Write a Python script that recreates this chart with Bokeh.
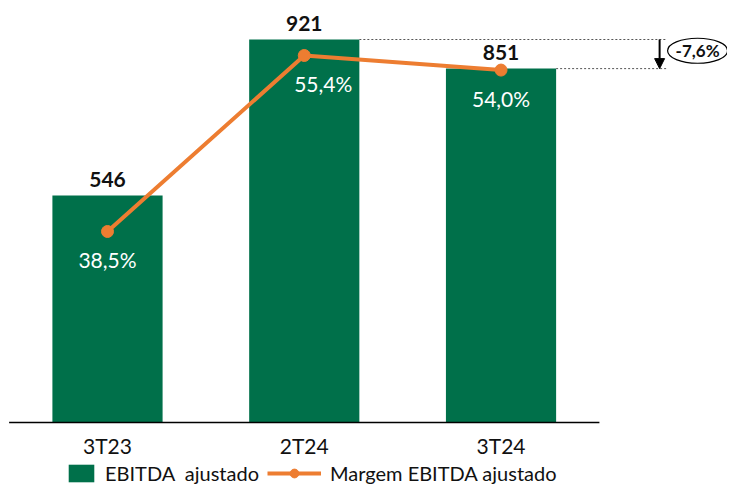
from bokeh.plotting import figure
from bokeh.models import Range1d, Legend, LegendItem, Arrow, NormalHead
from bokeh.embed import file_html
from bokeh.resources import INLINE
from bokeh.core.properties import value

# ---- data ----
categories = ["3T23", "2T24", "3T24"]
ebitda = [546, 921, 851]
margem = [38.5, 55.4, 54.0]
ebitda_labels = ["546", "921", "851"]
margem_labels = ["38,5%", "55,4%", "54,0%"]
variation_label = "-7,6%"
legend_labels = ["EBITDA  ajustado", "Margem EBITDA ajustado"]

GREEN = "#00704A"
ORANGE = "#ED7D31"
FONT = "Lato"
TXT = "#111111"

xs = list(range(len(categories)))

p = figure(width=727, height=486, output_backend="svg", toolbar_location=None,
           x_range=Range1d(-0.5438, 3.151), y_range=Range1d(-153.9, 1014.8),
           x_axis_location=None, y_axis_location=None,
           min_border=0, min_border_left=0, min_border_right=0,
           min_border_top=0, min_border_bottom=0)
p.extra_y_ranges = {"m": Range1d(14.014, 60.681)}
p.outline_line_color = None
p.xgrid.visible = False
p.ygrid.visible = False
p.background_fill_color = "white"

# bars
bars = p.vbar(x=xs, top=ebitda, bottom=0, width=0.56, fill_color=GREEN, line_color=None)

# baseline (category axis line)
p.segment(x0=[-0.5], y0=[0], x1=[len(categories) - 0.5], y1=[0], line_color="black", line_width=1.5)

# category labels
p.text(x=xs, y=[0] * len(xs), text=categories, y_offset=23,
       text_align="center", text_baseline="middle",
       text_font=value(FONT), text_font_size="21px", text_color=TXT)

# dotted reference lines for variation
bw = 0.56 / 2
p.segment(x0=[1 + bw, 2 + bw], y0=[ebitda[1], ebitda[2]], x1=[2.841, 2.841], y1=[ebitda[1], ebitda[2]],
          line_color="#555555", line_width=1, line_dash="2 2")

# value labels above bars
p.text(x=xs, y=ebitda, text=ebitda_labels, y_offset=-16,
       text_align="center", text_baseline="middle",
       text_font=value(FONT), text_font_size="21px", text_font_style="bold",
       text_color=TXT, background_fill_color="white", padding=3)

# margin line
line_r = p.line(x=xs, y=margem, y_range_name="m", line_color=ORANGE, line_width=4)
circ_r = p.scatter(x=xs, y=margem, y_range_name="m", size=12, fill_color=ORANGE, line_color=ORANGE)

# margin labels
p.text(x=xs, y=margem, y_range_name="m", text=margem_labels, x_offset=[0, 19, 0], y_offset=28,
       text_align="center", text_baseline="middle",
       text_font=value(FONT), text_font_size="21px", text_color="white")

# variation arrow and badge
p.add_layout(Arrow(end=NormalHead(size=10, fill_color="black", line_color="black"),
                   x_start=2.806, y_start=ebitda[1], x_end=2.806, y_end=ebitda[2],
                   line_color="black", line_width=2))
p.ellipse(x=[2.999], y=[894], width=60, height=25, width_units="screen", height_units="screen",
          fill_color="white", line_color="black", line_width=1.2)
p.text(x=[2.999], y=[894], text=[variation_label], text_align="center", text_baseline="middle",
       text_font=value(FONT), text_font_size="17px", text_font_style="bold", text_color=TXT)

# legends
leg1 = Legend(items=[LegendItem(label=legend_labels[0], renderers=[bars])],
              location=(65, 1), orientation="horizontal", glyph_width=32, glyph_height=22,
              label_standoff=8, padding=0, margin=0, spacing=0,
              background_fill_alpha=0, border_line_alpha=0,
              label_text_font=FONT, label_text_font_size="20px", label_text_color=TXT)
leg2 = Legend(items=[LegendItem(label=legend_labels[1], renderers=[line_r, circ_r])],
              location=(267, 1), orientation="horizontal", glyph_width=54, glyph_height=22,
              label_standoff=9, padding=0, margin=0, spacing=0,
              background_fill_alpha=0, border_line_alpha=0,
              label_text_font=FONT, label_text_font_size="20px", label_text_color=TXT)
p.add_layout(leg1)
p.add_layout(leg2)

open("out.html", "w").write(file_html(p, INLINE))
